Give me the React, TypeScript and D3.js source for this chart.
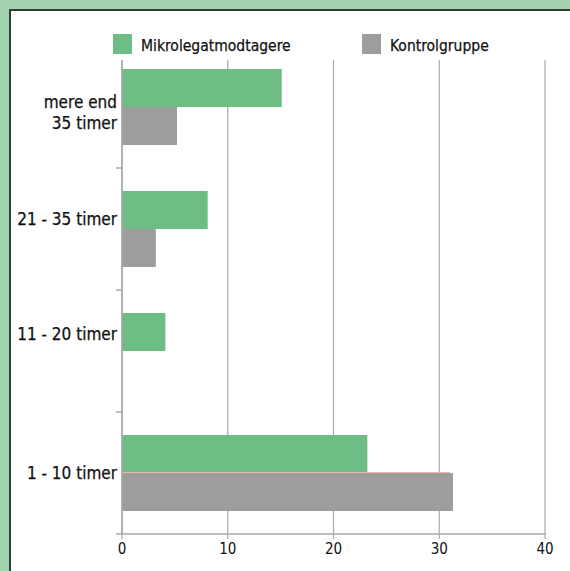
import { useMemo } from 'react';
import { scaleLinear, scaleBand } from 'd3';

// Hours per week — share of respondents (%)
const CATEGORIES = ['mere end\n35 timer', '21 - 35 timer', '11 - 20 timer', '1 - 10 timer'];
const SERIES = ['Mikrolegatmodtagere', 'Kontrolgruppe'];
const MIKRO = [15.1, 8.1, 4.1, 23.2];
const KONTROL = [5.2, 3.2, 0, 31.3];
const X_TICKS = [0, 10, 20, 30, 40];

const W = 570;
const H = 571;
const PLOT = { top: 46, bottom: 534, left: 122, right: 545, gridTop: 60 };
const LABEL_SHIFT = [5, -10, -17, 0]; // label nudges as in the original layout

const GREEN = '#6dbd85';
const GREY = '#9d9d9c';
const FRAME = '#a3d3ae';
const RULE = '#aaaaaa';
const FONT = "'DejaVu Sans Condensed', 'Roboto', sans-serif";

export default function App() {
  const x = useMemo(() => scaleLinear().domain([0, 40]).range([PLOT.left, PLOT.right]), []);
  const y0 = useMemo(() => scaleBand().domain(CATEGORIES).range([PLOT.top, PLOT.bottom]), []);
  const y1 = useMemo(() => scaleBand().domain(SERIES).range([23, y0.bandwidth() - 23]), [y0]);

  const values = [MIKRO, KONTROL];
  const colors = [GREEN, GREY];

  return (
    <svg width={W} height={H} style={{ position: 'absolute', left: 0, top: 0, display: 'block' }}>
      {/* frame */}
      <rect x={0} y={0} width={W} height={H} fill={FRAME} />
      <rect x={9} y={9} width={W - 9} height={H - 9} fill="#fff" />
      <line x1={10} x2={10} y1={9} y2={H} stroke="#2f3b33" strokeWidth={2} />
      <line x1={9} x2={W} y1={10} y2={10} stroke="#2f3b33" strokeWidth={2} />

      {/* legend */}
      {SERIES.map((s, i) => {
        const lx = i === 0 ? 113 : 362;
        return (
          <g key={s}>
            <rect x={lx} y={34} width={19} height={20} fill={colors[i]} />
            <text x={lx + 28} y={51} fontFamily={FONT} fontSize={15.5} fill="#111" stroke="#111" strokeWidth={0.25}>{s}</text>
          </g>
        );
      })}

      {/* grid */}
      {X_TICKS.map((t) => (
        <g key={t}>
          <line x1={x(t)} x2={x(t)} y1={PLOT.gridTop} y2={PLOT.bottom + 5} stroke={RULE} strokeWidth={1.2} />
          <text x={x(t)} y={554} textAnchor="middle" fontFamily={FONT} fontSize={15} fill="#111">{t}</text>
        </g>
      ))}

      {/* bars */}
      {CATEGORIES.map((c, ci) => (
        <g key={c} transform={`translate(0, ${y0(c)})`}>
          {SERIES.map((s, si) => {
            const v = values[si][ci];
            if (!v) return null;
            return (
              <rect key={s} x={x(0)} y={y1(s)} width={x(v) - x(0)} height={y1.bandwidth()} fill={colors[si]} />
            );
          })}
        </g>
      ))}

      {/* faint rule along the top of the last grey bar */}
      <line
        x1={x(0)} x2={x(KONTROL[3]) - 3}
        y1={(y0(CATEGORIES[3]) ?? 0) + (y1(SERIES[1]) ?? 0) - 0.5}
        y2={(y0(CATEGORIES[3]) ?? 0) + (y1(SERIES[1]) ?? 0) - 0.5}
        stroke="#f0b4b4" strokeWidth={1}
      />

      {/* axes */}
      <line x1={x(0)} x2={x(0)} y1={PLOT.gridTop} y2={PLOT.bottom} stroke={RULE} strokeWidth={1.5} />
      <line x1={x(0) - 6} x2={x(40) + 1} y1={PLOT.bottom} y2={PLOT.bottom} stroke={RULE} strokeWidth={1.5} />
      {CATEGORIES.slice(1).map((c) => (
        <line key={c} x1={x(0) - 6} x2={x(0)} y1={y0(c)} y2={y0(c)} stroke={RULE} strokeWidth={1.5} />
      ))}

      {/* category labels */}
      {CATEGORIES.map((c, ci) => {
        const lines = c.split('\n');
        const cy = (y0(c) ?? 0) + y0.bandwidth() / 2 + LABEL_SHIFT[ci];
        return (
          <text key={c} x={x(0) - 5} textAnchor="end" fontFamily={FONT} fontSize={17} fill="#111" stroke="#111" strokeWidth={0.25}>
            {lines.map((l, li) => (
              <tspan key={l} x={x(0) - 5} y={cy + 6 + (li - (lines.length - 1) / 2) * 21}>{l}</tspan>
            ))}
          </text>
        );
      })}
    </svg>
  );
}
